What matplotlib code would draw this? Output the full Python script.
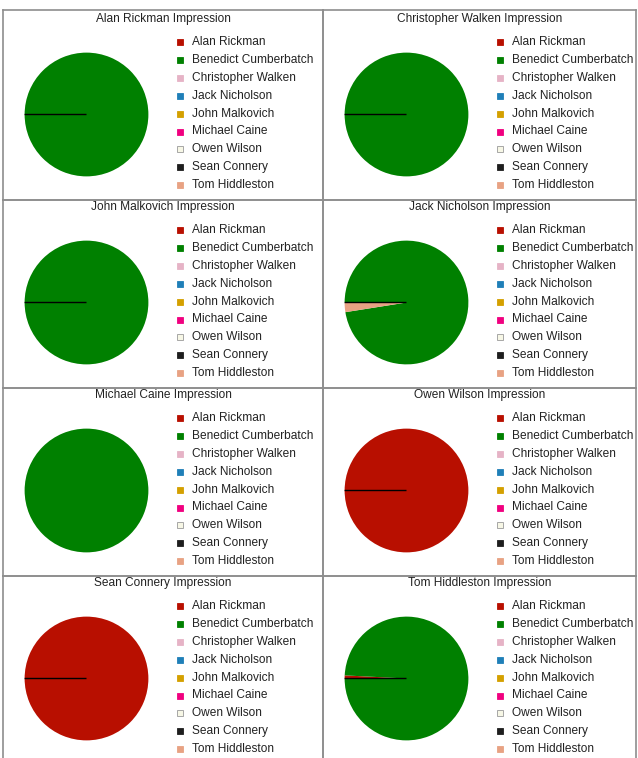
import numpy as np
import matplotlib
matplotlib.use("Agg")
import matplotlib.pyplot as plt
from matplotlib.patches import Rectangle

plt.rcParams["font.family"] = ["Liberation Sans", "DejaVu Sans"]

# who the votes went to (legend order)
actors = ["Alan Rickman", "Benedict Cumberbatch", "Christopher Walken",
          "Jack Nicholson", "John Malkovich", "Michael Caine",
          "Owen Wilson", "Sean Connery", "Tom Hiddleston"]
actor_colors = ["#b80f00", "#008000", "#e6b3c6", "#1f7fb8", "#d4a000",
                "#f0007f", "#f7f7e6", "#1e1e1e", "#e8a283"]

# one panel per impression, grid order left->right, top->bottom
impressions = ["Alan Rickman", "Christopher Walken", "John Malkovich",
               "Jack Nicholson", "Michael Caine", "Owen Wilson",
               "Sean Connery", "Tom Hiddleston"]

# share of votes per actor (None = no entry in the data)
alan_rickman_votes = [0, 100, 0, 0, 0, 0, 0, 0, 0]
christopher_walken_votes = [0, 100, 0, 0, 0, 0, 0, 0, 0]
john_malkovich_votes = [0, 100, 0, 0, 0, 0, 0, 0, 0]
jack_nicholson_votes = [0, 97.5, 0, 0, 0, 0, 0, 0, 2.5]
michael_caine_votes = [None, 100, None, None, None, None, None, None, None]
owen_wilson_votes = [100, 0, 0, 0, 0, 0, 0, 0, 0]
sean_connery_votes = [100, 0, 0, 0, 0, 0, 0, 0, 0]
tom_hiddleston_votes = [0.8, 99.2, 0, 0, 0, 0, 0, 0, 0]

all_votes = [alan_rickman_votes, christopher_walken_votes, john_malkovich_votes,
             jack_nicholson_votes, michael_caine_votes, owen_wilson_votes,
             sean_connery_votes, tom_hiddleston_votes]

W, H = 638, 758
col_left = [3, 323]
col_width = [320, 313]
row_top = [10, 200, 388, 576]
row_height = [190, 188, 188, 188]
FS = 8.6
BORDER = "#8e8e8e"

fig = plt.figure(figsize=(W / 100, H / 100), dpi=100, facecolor="white")


def px_axes(x, y, w, h):
    """axes placed in figure pixels (y from top)"""
    return fig.add_axes([x / W, 1 - (y + h) / H, w / W, h / H])


for k, (name, votes) in enumerate(zip(impressions, all_votes)):
    r, c = divmod(k, 2)
    x0, y0 = col_left[c], row_top[r]
    cw, ch = col_width[c], row_height[r]
    dy = 0 if r == 0 else -2

    # cell frame + title + legend, in pixel coords
    cell = px_axes(x0, y0, cw, ch)
    cell.set_xlim(0, cw)
    cell.set_ylim(ch, 0)
    cell.set_xticks([])
    cell.set_yticks([])
    cell.patch.set_alpha(0)
    for sp in cell.spines.values():
        sp.set_color(BORDER)
        sp.set_linewidth(1.2)
    cell.text(cw / 2, 9 + dy, f"{name} Impression", ha="center", va="center",
              fontsize=FS, color="#222222")
    for i, (actor, col) in enumerate(zip(actors, actor_colors)):
        yy = 32 + dy + i * 17.9
        edge = "#9a9a9a" if actor == "Owen Wilson" else col
        cell.add_patch(Rectangle((174, yy - 3), 6, 6, facecolor=col,
                                 edgecolor=edge, linewidth=0.6))
        cell.text(189, yy, actor, ha="left", va="center", fontsize=FS,
                  color="#222222")

    # the pie itself
    keep = [i for i, v in enumerate(votes) if v is not None]
    vals = [votes[i] for i in keep]
    cols = [actor_colors[i] for i in keep]
    R = 62.5
    pax = px_axes(x0 + 83.5 - R, y0 + 104.5 + dy - R, 2 * R, 2 * R)
    wedges, _ = pax.pie(vals, colors=cols, startangle=180, counterclock=False,
                        radius=1.0, wedgeprops=dict(edgecolor="none"))
    # the first empty slice shows up as a thin black spoke
    for wdg, v in zip(wedges, vals):
        if v == 0:
            wdg.set_edgecolor("black")
            wdg.set_linewidth(1.0)
            wdg.set_zorder(5)
            break
    pax.set_xlim(-1.01, 1.01)
    pax.set_ylim(-1.01, 1.01)
    pax.axis("off")

fig.savefig("out.png", dpi=100, facecolor="white")
